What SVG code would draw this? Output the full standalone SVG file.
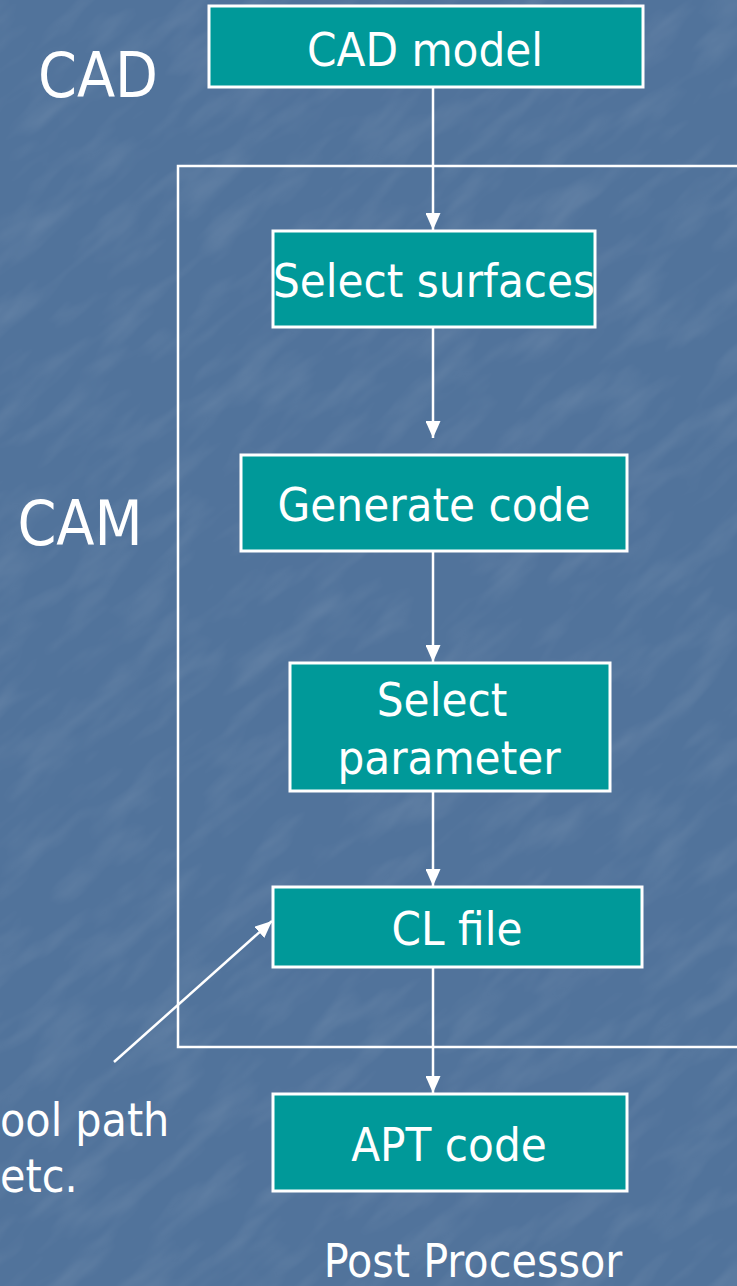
<svg xmlns="http://www.w3.org/2000/svg" width="737" height="1286" viewBox="0 0 737 1286">
<style>
.box{fill:#009999;stroke:#ffffff;stroke-width:3}
.t{fill:#ffffff;font-family:"DejaVu Sans Condensed","DejaVu Sans",sans-serif;text-anchor:middle}
.b{font-size:47px}
.big{font-size:62px}
.lbl{font-size:46px}
.ln{stroke:#ffffff;stroke-width:2.5;fill:none}
</style>
<defs>
<marker id="ah" markerWidth="17" markerHeight="15" viewBox="0 0 17 15" refX="17" refY="7.5" orient="auto" markerUnits="userSpaceOnUse">
<path d="M0,0 L17,7.5 L0,15 Z" fill="#ffffff"/>
</marker>
<filter id="tex" x="0" y="0" width="100%" height="100%">
<feTurbulence type="fractalNoise" baseFrequency="0.012 0.04" numOctaves="3" seed="7"/>
<feColorMatrix type="matrix" values="0 0 0 0 1  0 0 0 0 1  0 0 0 0 1  0 0 0 0.9 -0.4"/>
</filter>
<clipPath id="page"><rect x="0" y="0" width="737" height="1286"/></clipPath>
</defs>
<rect x="0" y="0" width="737" height="1286" fill="#51739b"/>
<g clip-path="url(#page)"><rect x="-600" y="-600" width="1950" height="2500" filter="url(#tex)" opacity="0.2" transform="rotate(-40 368 643)"/></g>
<g id="cam-frame"><rect x="178" y="166" width="565" height="881" fill="none" stroke="#ffffff" stroke-width="2.5"/></g>
<g id="connectors">
<line class="ln" x1="433" y1="88" x2="433" y2="230" marker-end="url(#ah)"/>
<line class="ln" x1="433" y1="328" x2="433" y2="438" marker-end="url(#ah)"/>
<line class="ln" x1="433" y1="552" x2="433" y2="662" marker-end="url(#ah)"/>
<line class="ln" x1="433" y1="792" x2="433" y2="886" marker-end="url(#ah)"/>
<line class="ln" x1="433" y1="968" x2="433" y2="1093" marker-end="url(#ah)"/>
<line class="ln" x1="114" y1="1062" x2="272" y2="921" marker-end="url(#ah)"/>
</g>
<g id="label-cad"><text class="t big" x="98" y="97">CAD</text></g>
<g id="label-cam"><text class="t big" x="80" y="545">CAM</text></g>
<g id="node-cad-model"><rect class="box" x="209" y="6" width="434" height="81"/><text class="t b" x="425" y="66">CAD model</text></g>
<g id="node-select-surfaces"><rect class="box" x="273" y="231" width="322" height="96"/><text class="t b" x="434" y="297">Select surfaces</text></g>
<g id="node-generate-code"><rect class="box" x="241" y="455" width="386" height="96"/><text class="t b" x="434" y="521">Generate code</text></g>
<g id="node-select-parameter"><rect class="box" x="290" y="663" width="320" height="128"/><text class="t b" x="442" y="716">Select</text><text class="t b" x="449" y="774">parameter</text></g>
<g id="node-cl-file"><rect class="box" x="273" y="887" width="369" height="80"/><text class="t b" x="457" y="945">CL file</text></g>
<g id="node-apt-code"><rect class="box" x="273" y="1094" width="354" height="97"/><text class="t b" x="449" y="1161">APT code</text></g>
<g id="label-post"><text class="t lbl" x="473" y="1277">Post Processor</text></g>
<g id="label-toolpath"><text class="t lbl" x="0" y="1136" style="text-anchor:start">ool path</text><text class="t lbl" x="0" y="1192" style="text-anchor:start">etc.</text></g>
</svg>
